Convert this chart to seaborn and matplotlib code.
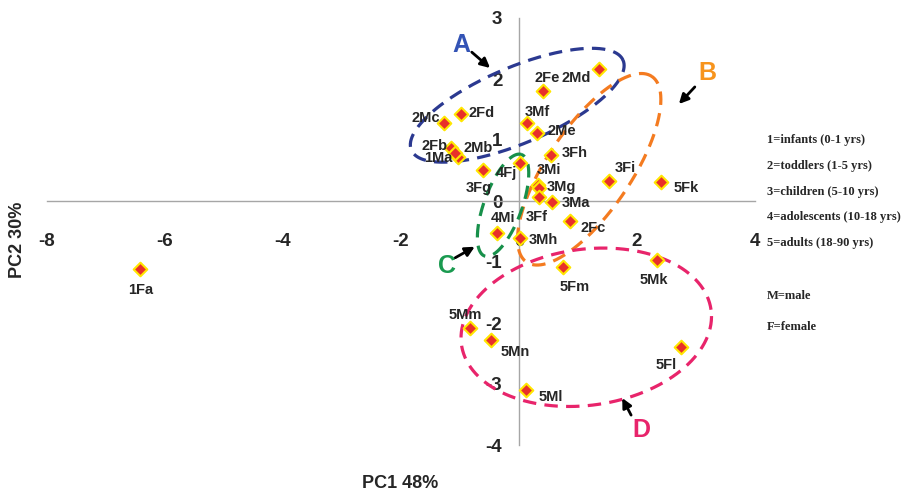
import numpy as np
import pandas as pd
import matplotlib
matplotlib.use("Agg")
import matplotlib.pyplot as plt
import seaborn as sns

# ---------------- data ----------------
labels = ["1Fa", "2Md", "2Fe", "2Mc", "2Fd", "3Mf", "2Me", "2Fb", "1Ma", "2Mb",
          "3Fh", "4Fj", "3Fg", "3Mi", "3Mg", "3Ff", "3Ma", "2Fc", "4Mi", "3Mh",
          "3Fi", "5Fk", "5Fm", "5Mk", "5Mm", "5Mn", "5Fl", "5Ml"]
pc1 = [-6.42, 1.36, 0.41, -1.27, -0.98, 0.14, 0.31, -1.15, -1.03, -1.08,
       0.54, 0.02, -0.61, 0.32, 0.34, 0.34, 0.56, 0.86, -0.37, 0.02,
       1.53, 2.41, 0.75, 2.34, -0.83, -0.47, 2.75, 0.12]
pc2 = [-1.11, 2.16, 1.80, 1.28, 1.43, 1.28, 1.11, 0.87, 0.72, 0.79,
       0.75, 0.62, 0.51, 0.26, 0.21, 0.07, -0.02, -0.33, -0.52, -0.61,
       0.33, 0.31, -1.08, -0.97, -2.08, -2.28, -2.39, -3.10]

x_ticks = [-8, -6, -4, -2, 0, 2, 4]
y_ticks = [-4, -3, -2, -1, 0, 1, 2, 3]
x_title = "PC1 48%"
y_title = "PC2 30%"
legend_lines = ["1=infants (0-1 yrs)", "2=toddlers (1-5 yrs)", "3=children (5-10 yrs)",
                "4=adolescents (10-18 yrs)", "5=adults (18-90 yrs)", "M=male", "F=female"]

# group ellipses: name -> (center x, center y) in data units
group_names = ["A", "B", "C", "D"]
group_centers = [(-0.03, 1.57), (1.19, 0.52), (-0.27, -0.07), (1.14, -2.07)]

# ---------------- styles ----------------
# label offsets in pixels (dx right, dy down, horizontal alignment)
label_style = {
    "1Fa": (0, 21, "center"), "2Md": (-8, 9, "right"), "2Fe": (4, -13, "center"),
    "2Mc": (-4, -5, "right"), "2Fd": (7, -1, "left"), "3Mf": (10, -11, "center"),
    "2Me": (10, -2, "left"), "2Fb": (-4, -2, "right"), "1Ma": (-6, 1, "right"),
    "2Mb": (8, -5, "left"), "3Fh": (11, -2, "left"), "4Fj": (-3, 10, "right"),
    "3Fg": (-4, 18, "center"), "3Mi": (-1, -15, "left"), "3Mg": (8, -1, "left"),
    "3Ff": (-13, 20, "left"), "3Ma": (10, 1, "left"), "2Fc": (11, 7, "left"),
    "4Mi": (6, -15, "center"), "3Mh": (9, 2, "left"), "3Fi": (16, -13, "center"),
    "5Fk": (12, 6, "left"), "5Fm": (11, 20, "center"), "5Mk": (-3, 20, "center"),
    "5Mm": (-5, -13, "center"), "5Mn": (9, 12, "left"), "5Fl": (-15, 18, "center"),
    "5Ml": (13, 7, "left"),
}
# ellipse geometry in pixels: semi-axis a, semi-axis b, angle (deg)
ell_geom = {"A": (115, 38, 23), "B": (112, 42, 56), "C": (54, 19, 70), "D": (126, 78, 8)}
ell_color = {"A": "#2B3990", "B": "#F47B20", "C": "#17904A", "D": "#E8246B"}
letter_color = {"A": "#3353B5", "B": "#F7941D", "C": "#1A9A50", "D": "#E8246B"}
letter_pos = {"A": (-0.97, 2.56), "B": (3.19, 2.10), "C": (-1.22, -1.07), "D": (2.07, -3.75)}
arrow_pos = {"A": ((-0.80, 2.44), (-0.49, 2.18)), "B": ((2.98, 1.87), (2.71, 1.59)),
             "C": ((-1.08, -0.93), (-0.75, -0.75)), "D": ((1.90, -3.51), (1.75, -3.23))}

df = pd.DataFrame({"label": labels, "PC1": pc1, "PC2": pc2})

sns.set_style("white")
plt.rcParams["font.family"] = ["Liberation Sans", "DejaVu Sans"]

fig = plt.figure(figsize=(9.16, 4.95), dpi=100)
ax = fig.add_axes([47 / 916, 1 - 445 / 495, (755 - 47) / 916, (445 - 18) / 495])

ax.set_xlim(-8, 4)
ax.set_ylim(-4, 3)

# ellipses (drawn in display space so the shape is a true ellipse)
t = np.linspace(0, 2 * np.pi, 400)
for name, c in zip(group_names, group_centers):
    a, b, ang = ell_geom[name]
    th = np.deg2rad(ang)
    cx, cy = ax.transData.transform(c)
    px = cx + a * np.cos(t) * np.cos(th) - b * np.sin(t) * np.sin(th)
    py = cy + a * np.cos(t) * np.sin(th) + b * np.sin(t) * np.cos(th)
    pts = ax.transData.inverted().transform(np.column_stack([px, py]))
    ax.plot(pts[:, 0], pts[:, 1], color=ell_color[name], lw=2.3,
            linestyle=(0, (4.2, 2.6)), zorder=2)

sns.scatterplot(data=df, x="PC1", y="PC2", marker="D", s=48, color="#E8302A",
                edgecolor="#FFE600", linewidth=1.5, ax=ax, zorder=3, legend=False)

for lab, x, y in zip(labels, pc1, pc2):
    dx, dy, ha = label_style[lab]
    ax.annotate(lab, (x, y), xytext=(dx, -dy), textcoords="offset pixels",
                ha=ha, va="center", fontsize=10.5, fontweight="bold", zorder=4)

for name in group_names:
    lx, ly = letter_pos[name]
    ax.text(lx, ly, name, color=letter_color[name], fontsize=18, fontweight="bold",
            ha="center", va="center")
    (sx, sy), (ex, ey) = arrow_pos[name]
    ax.annotate("", xy=(ex, ey), xytext=(sx, sy),
                arrowprops=dict(arrowstyle="-|>", color="black", lw=2.0,
                                mutation_scale=14, shrinkA=0, shrinkB=0))

# axes through origin
for s in ["top", "right"]:
    ax.spines[s].set_visible(False)
ax.spines["left"].set_position(("data", 0))
ax.spines["bottom"].set_position(("data", 0))
for s in ["left", "bottom"]:
    ax.spines[s].set_color("#A6A6A6")
    ax.spines[s].set_linewidth(1.0)
    ax.spines[s].set_zorder(1)

ax.set_xticks(x_ticks)
ax.set_yticks(y_ticks)
ax.set_xticklabels([str(v) for v in x_ticks])
ax.set_yticklabels([str(v) for v in y_ticks])
ax.tick_params(axis="x", direction="out", length=5, width=1, color="#A6A6A6",
               pad=18, labelsize=13.5)
ax.tick_params(axis="y", direction="out", length=5, width=1, color="#A6A6A6",
               pad=7, labelsize=13.5)
for tl in ax.get_xticklabels() + ax.get_yticklabels():
    tl.set_fontweight("bold")
ax.set_xlabel("")
ax.set_ylabel("")
ax.grid(False)

fig.text(400 / 916, 1 - 484 / 495, x_title, ha="center", va="center",
         fontsize=13, fontweight="bold")
fig.text(18 / 916, 1 - 240 / 495, y_title, ha="center", va="center",
         rotation=90, fontsize=13, fontweight="bold")

leg_y = [140, 166, 192, 217, 243, 296, 327]
for txt, yy in zip(legend_lines, leg_y):
    fig.text(767 / 916, 1 - yy / 495, txt, ha="left", va="center", fontsize=9,
             fontweight="bold", family=["Liberation Serif", "DejaVu Serif"])

fig.savefig("out.png", dpi=100)
